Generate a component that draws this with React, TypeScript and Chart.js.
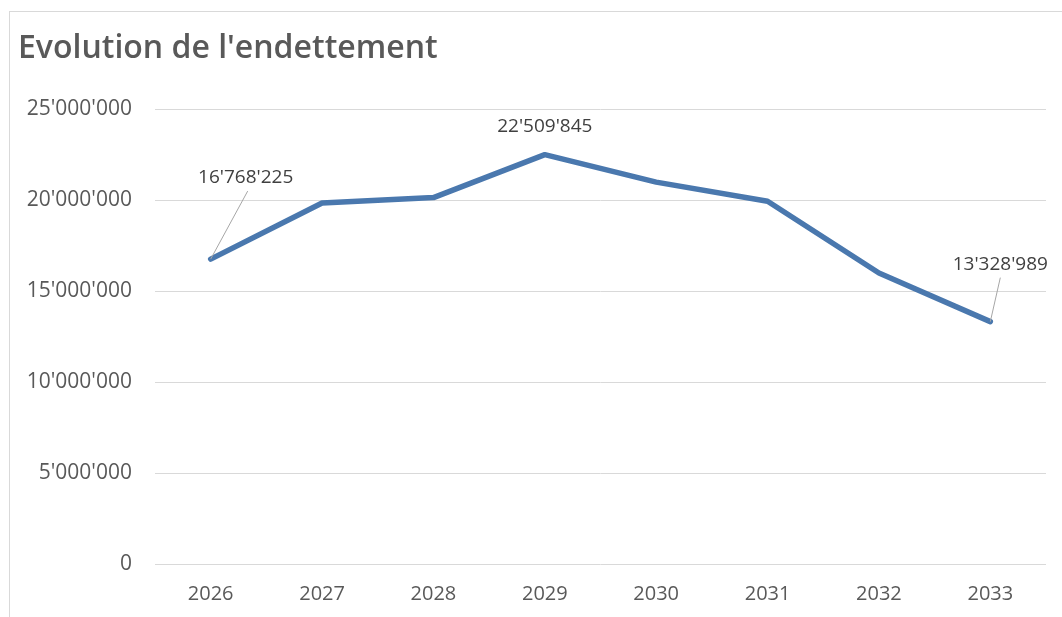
import React, { useEffect, useRef } from "react";
import { Chart, registerables } from "chart.js";

Chart.register(...registerables);

const TITLE = "Evolution de l'endettement";
const YEARS = ["2026", "2027", "2028", "2029", "2030", "2031", "2032", "2033"];
const DEBT = [16768225, 19850000, 20150000, 22509845, 21000000, 19950000, 16000000, 13328989];
const LABELLED = [0, 3, 7];
const Y_MIN = 0;
const Y_MAX = 25000000;
const Y_STEP = 5000000;

const fmt = (v: number) => Math.round(v).toString().replace(/\B(?=(\d{3})+(?!\d))/g, "'");

const labelPlugin = {
  id: "dataLabelsCustom",
  afterDatasetsDraw(chart: any) {
    const ctx = chart.ctx;
    const meta = chart.getDatasetMeta(0);
    const offsets: Record<number, { dx: number; dy: number; leader: boolean }> = {
      0: { dx: 35, dy: -81, leader: true },
      3: { dx: 0, dy: -28, leader: false },
      7: { dx: 10, dy: -57, leader: true },
    };
    ctx.save();
    ctx.font = "19px 'Open Sans'";
    ctx.textAlign = "center";
    ctx.textBaseline = "middle";
    LABELLED.forEach((i) => {
      const pt = meta.data[i];
      if (!pt) return;
      const o = offsets[i];
      const lx = pt.x + o.dx;
      const ly = pt.y + o.dy;
      if (o.leader) {
        ctx.strokeStyle = "#a6a6a6";
        ctx.lineWidth = 1;
        ctx.beginPath();
        ctx.moveTo(pt.x, pt.y);
        ctx.lineTo(lx + (i === 0 ? 2 : 0), ly + 13);
        ctx.stroke();
      }
      ctx.fillStyle = "#404040";
      ctx.fillText(fmt(DEBT[i]), lx, ly);
    });
    ctx.restore();
  },
};

export default function App() {
  const ref = useRef<HTMLCanvasElement | null>(null);
  useEffect(() => {
    if (!ref.current) return;
    const chart = new Chart(ref.current, {
      type: "line",
      data: {
        labels: YEARS,
        datasets: [
          {
            data: DEBT,
            borderColor: "#4a78ae",
            borderWidth: 5.5,
            pointRadius: 0,
            tension: 0,
            borderCapStyle: "round",
            borderJoinStyle: "round",
            fill: false,
          },
        ],
      },
      options: {
        animation: false,
        responsive: false,
        maintainAspectRatio: false,
        layout: { padding: { left: 18, right: 16, top: 0, bottom: 12 } },
        plugins: {
          legend: { display: false },
          tooltip: { enabled: false },
          title: {
            display: true,
            text: TITLE,
            align: "start",
            color: "#595959",
            font: { family: "'Open Sans'", size: 32, weight: "600" },
            padding: { top: 30, bottom: 41 },
          },
        },
        scales: {
          x: {
            offset: true,
            afterFit: (scale: any) => {
              scale.height = 41;
            },
            grid: { display: false, drawTicks: false, offset: true },
            border: { display: false },
            ticks: {
              color: "#595959",
              font: { family: "'Open Sans'", size: 20 },
              padding: 18,
              maxRotation: 0,
              minRotation: 0,
            },
          },
          y: {
            min: Y_MIN,
            max: Y_MAX,
            afterFit: (scale: any) => {
              scale.width = 137;
            },
            grid: { color: "#d9d9d9", lineWidth: 1, drawTicks: false },
            border: { display: false },
            ticks: {
              stepSize: Y_STEP,
              color: "#595959",
              font: { family: "'Open Sans'", size: 21 },
              padding: 23,
              callback: (v: any) => fmt(Number(v)),
            },
          },
        },
      },
      plugins: [labelPlugin],
    });
    return () => chart.destroy();
  }, []);

  return (
    <div style={{ position: "fixed", left: 0, top: 0, width: 1062, height: 617, background: "#fff", overflow: "hidden" }}>
      <div
        style={{
          position: "absolute",
          left: 9,
          top: 11,
          width: 1100,
          height: 700,
          borderLeft: "1px solid #d9d9d9",
          borderTop: "1px solid #d9d9d9",
        }}
      />
      <canvas ref={ref} width={1062} height={617} style={{ position: "absolute", left: 0, top: 0, width: 1062, height: 617 }} />
    </div>
  );
}
